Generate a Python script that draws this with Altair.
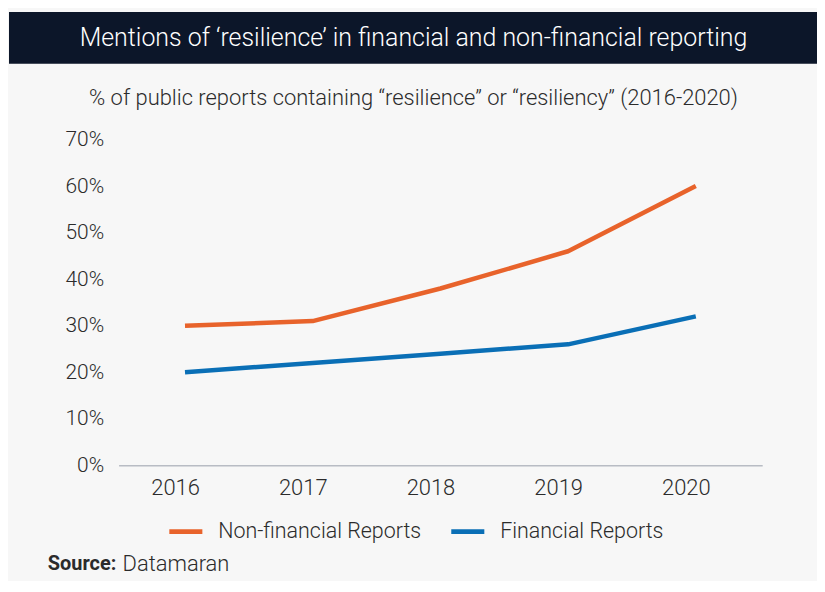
import altair as alt
import pandas as pd

years = ["2016", "2017", "2018", "2019", "2020"]
non_financial = [30, 31, 38, 46, 60]
financial = [20, 22, 24, 26, 32]
series_names = ["Non-financial Reports", "Financial Reports"]
series_colors = ["#e8632b", "#0a6fb6"]
y_ticks = [0, 10, 20, 30, 40, 50, 60, 70]

title_text = "Mentions of \u2018resilience\u2019 in financial and non-financial reporting"
subtitle_text = "% of public reports containing \u201cresilience\u201d or \u201cresiliency\u201d (2016-2020)"
source_bold = "Source:"
source_text = "Datamaran"

FONT = "Roboto"

rows = []
for y, v in zip(years, non_financial):
    rows.append({"year": y, "value": v, "series": series_names[0]})
for y, v in zip(years, financial):
    rows.append({"year": y, "value": v, "series": series_names[1]})
df = pd.DataFrame(rows)

one = pd.DataFrame({"t": [0]})

header = alt.Chart(one).mark_rect(color="#0c1629").encode(
    x=alt.value(-110), x2=alt.value(701), y=alt.value(-128), y2=alt.value(-76)
)

title = alt.Chart(one).mark_text(
    text=title_text, font=FONT, fontSize=25, fontWeight=300, color="white",
    align="center", baseline="middle"
).encode(x=alt.value(296), y=alt.value(-102))

subtitle = alt.Chart(one).mark_text(
    text=subtitle_text, font=FONT, fontSize=22, fontWeight=300, color="#2b2b2b",
    align="center", baseline="middle"
).encode(x=alt.value(296), y=alt.value(-42))

src1 = alt.Chart(one).mark_text(
    text=source_bold, font=FONT, fontSize=20, fontWeight="bold", color="#2b2b2b",
    align="left", baseline="middle"
).encode(x=alt.value(-71), y=alt.value(426))

src2 = alt.Chart(one).mark_text(
    text=source_text, font=FONT, fontSize=22, fontWeight=300, color="#2b2b2b",
    align="left", baseline="middle"
).encode(x=alt.value(4), y=alt.value(426))

lines = alt.Chart(df).mark_line(strokeWidth=4.5, strokeJoin="round").encode(
    x=alt.X("year:O", sort=years, title=None,
            scale=alt.Scale(type="point", padding=0.52),
            axis=alt.Axis(labelAngle=0, ticks=False, domainColor="#b8bcc4",
                          domainWidth=1.5, labelPadding=12, labelOffset=-10,
                          labelFontSize=22)),
    y=alt.Y("value:Q", title=None,
            scale=alt.Scale(domain=[0, 70]),
            axis=alt.Axis(values=y_ticks, labelExpr="datum.value + '%'",
                          domain=False, ticks=False, grid=False, labelPadding=15,
                          labelFontSize=21)),
    color=alt.Color("series:N", sort=series_names, title=None,
                    scale=alt.Scale(domain=series_names, range=series_colors),
                    legend=alt.Legend(orient="none", legendX=48, legendY=374,
                                      direction="horizontal", symbolType="stroke",
                                      symbolStrokeWidth=5, symbolSize=1100,
                                      labelFontSize=21.5, labelFont=FONT,
                                      labelFontWeight=300, labelColor="#2b2b2b",
                                      columnPadding=19, labelOffset=13,
                                      labelLimit=400)),
)

chart = alt.layer(header, title, subtitle, lines, src1, src2).properties(
    width=646, height=327,
    autosize=alt.AutoSizeParams(type="none"),
    padding={"left": 111, "top": 131, "right": 55, "bottom": 115},
    background="#f7f7f7",
).configure_view(stroke=None).configure_axis(
    labelFont=FONT, labelFontWeight=300, labelColor="#2b2b2b"
)

chart.save("out.html", embed_options={"renderer": "svg", "actions": False})
